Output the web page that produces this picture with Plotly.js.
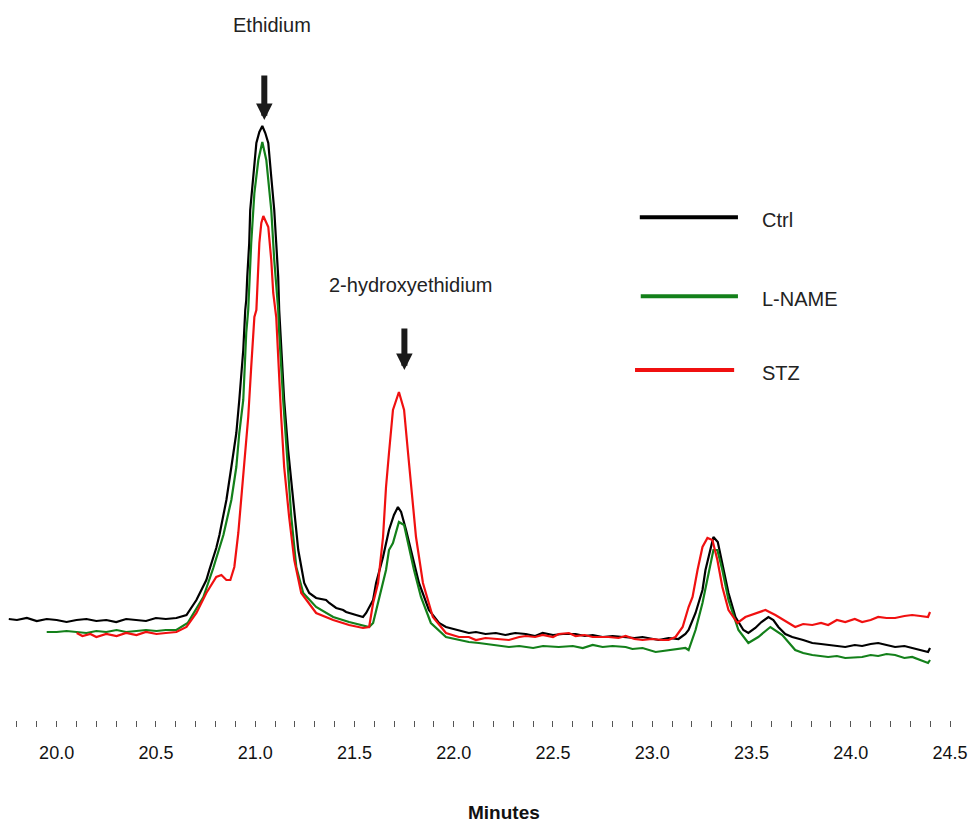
<!DOCTYPE html>
<html>
<head>
<meta charset="utf-8">
<script src="https://cdn.plot.ly/plotly-3.0.1.min.js"></script>
<style>html,body{margin:0;padding:0;background:#fff;}#chart{width:972px;height:823px;}</style>
</head>
<body>
<div id="chart"></div>
<script>
// Retention time (minutes) and detector signal (arbitrary units)
const ctrlTime = [19.759,19.800,19.850,19.900,19.950,20.000,20.050,20.100,20.150,20.200,20.250,20.300,20.350,20.400,20.450,20.500,20.550,20.603,20.654,20.704,20.754,20.769,20.804,20.820,20.855,20.880,20.905,20.920,20.940,20.950,20.955,20.960,20.970,20.975,20.990,21.006,21.021,21.036,21.051,21.066,21.081,21.096,21.106,21.116,21.121,21.131,21.146,21.166,21.192,21.217,21.247,21.272,21.307,21.357,21.373,21.408,21.443,21.458,21.508,21.543,21.559,21.574,21.594,21.609,21.644,21.674,21.699,21.719,21.735,21.760,21.795,21.825,21.875,21.926,21.961,22.026,22.076,22.112,22.160,22.212,22.260,22.310,22.363,22.410,22.448,22.500,22.550,22.614,22.660,22.700,22.750,22.800,22.866,22.910,22.951,23.000,23.032,23.082,23.132,23.167,23.183,23.218,23.253,23.268,23.290,23.308,23.330,23.353,23.384,23.419,23.459,23.484,23.519,23.550,23.585,23.610,23.635,23.670,23.705,23.760,23.806,23.850,23.900,23.972,24.020,24.057,24.100,24.138,24.180,24.223,24.270,24.309,24.350,24.389,24.399];
const ctrlSignal = [81,80,82,79,81,80,78,80,81,79,80,78,81,80,79,82,81,82,85,100,120,130,152,165,200,233,267,300,350,390,400,423,457,490,523,557,568,574,567,557,523,490,457,423,390,350,300,250,200,150,117,107,102,100,97,92,90,88,85,83,87,93,100,117,143,170,185,193,188,170,143,117,90,77,73,70,67,68,66,67,65,67,66,64,67,65,66,66,64,65,63,64,63,62,63,61,60,62,61,66,70,87,110,130,150,163,158,137,107,83,70,67,72,78,83,80,73,66,63,60,57,56,55,53,55,54,56,57,55,53,54,52,50,48,52];

const lnameTime = [19.950,20.000,20.050,20.101,20.150,20.200,20.250,20.302,20.350,20.402,20.450,20.503,20.550,20.603,20.660,20.739,20.789,20.840,20.880,20.905,20.920,20.940,20.955,20.965,20.980,20.996,21.016,21.036,21.056,21.081,21.096,21.116,21.121,21.141,21.166,21.182,21.207,21.242,21.307,21.393,21.473,21.543,21.574,21.594,21.624,21.659,21.674,21.694,21.724,21.750,21.770,21.800,21.835,21.885,21.961,22.076,22.127,22.200,22.278,22.330,22.400,22.450,22.529,22.600,22.650,22.700,22.750,22.800,22.866,22.900,22.951,23.017,23.060,23.100,23.167,23.183,23.218,23.253,23.283,23.308,23.328,23.353,23.384,23.434,23.484,23.534,23.595,23.655,23.720,23.760,23.806,23.886,23.930,23.972,24.057,24.100,24.138,24.180,24.223,24.270,24.309,24.350,24.389,24.399];
const lnameSignal = [68,68,69,68,67,69,68,70,68,69,70,69,70,70,77,103,132,165,200,233,267,300,367,390,457,507,540,558,540,490,440,390,367,300,233,183,133,107,93,83,78,75,73,77,103,130,150,157,178,175,157,130,103,77,63,58,57,55,53,54,52,54,53,54,52,55,53,54,53,51,52,48,49,50,52,50,70,97,127,150,150,130,100,70,57,63,73,65,50,47,45,43,44,42,43,45,44,46,45,42,43,40,37,40];

const stzTime = [20.101,20.130,20.170,20.200,20.250,20.302,20.350,20.402,20.450,20.503,20.550,20.603,20.654,20.704,20.754,20.804,20.830,20.855,20.875,20.895,20.915,20.930,20.945,20.965,20.980,20.996,21.006,21.021,21.031,21.041,21.066,21.081,21.091,21.101,21.106,21.131,21.146,21.171,21.197,21.232,21.307,21.393,21.473,21.543,21.574,21.594,21.619,21.644,21.659,21.674,21.694,21.724,21.750,21.770,21.785,21.810,21.845,21.895,21.961,22.026,22.076,22.112,22.160,22.212,22.278,22.330,22.363,22.410,22.448,22.500,22.529,22.580,22.614,22.660,22.700,22.780,22.830,22.866,22.910,22.951,23.000,23.050,23.082,23.117,23.153,23.183,23.203,23.228,23.253,23.278,23.303,23.328,23.353,23.384,23.429,23.469,23.534,23.570,23.620,23.685,23.720,23.760,23.806,23.850,23.886,23.930,23.972,24.020,24.057,24.100,24.138,24.180,24.223,24.270,24.309,24.350,24.389,24.399];
const stzSignal = [67,64,66,63,66,64,67,65,68,66,67,68,73,87,107,123,125,120,120,133,167,200,233,283,333,383,390,457,477,484,473,440,407,390,383,283,233,183,140,107,87,80,75,72,73,97,117,163,213,247,290,308,290,247,213,163,117,83,67,63,63,60,62,61,60,63,64,63,65,63,66,67,64,65,63,63,62,64,61,60,61,60,60,63,73,93,103,130,153,162,160,140,113,90,77,83,88,90,85,77,73,76,75,77,75,80,78,81,78,80,83,82,82,84,85,84,83,88];

const seriesNames = ["Ctrl", "L-NAME", "STZ"];
const seriesColors = ["#000000", "#13801a", "#f01010"];
const tickVals = [20.0,20.5,21.0,21.5,22.0,22.5,23.0,23.5,24.0,24.5];
const tickText = ["20.0","20.5","21.0","21.5","22.0","22.5","23.0","23.5","24.0","24.5"];

const FONT = "Liberation Sans, Arial, sans-serif";
const xs = [ctrlTime, lnameTime, stzTime];
const ys = [ctrlSignal, lnameSignal, stzSignal];

const traces = seriesNames.map((n, i) => ({
  type: "scatter", mode: "lines", name: n,
  x: xs[i], y: ys[i],
  line: {color: seriesColors[i], width: 2.2, shape: "linear"},
  showlegend: false, hoverinfo: "x+y+name"
}));

// Legend drawn as line samples + labels
const legendY = [0.708, 0.597, 0.493];
const legendX0 = [0.664, 0.665, 0.659];
const legendX1 = [0.767, 0.767, 0.763];
const shapes = seriesNames.map((n, i) => ({
  type: "line", xref: "paper", yref: "paper",
  x0: legendX0[i], x1: legendX1[i], y0: legendY[i], y1: legendY[i],
  line: {color: seriesColors[i], width: 4}
}));
const annotations = seriesNames.map((n, i) => ({
  xref: "paper", yref: "paper", x: 0.790, y: legendY[i] - 0.004,
  text: n, showarrow: false, xanchor: "left", yanchor: "middle",
  font: {family: FONT, size: 20, color: "#222"}
}));
annotations.push(
  {xref: "paper", yref: "paper", x: 0.278, y: 0.979, text: "Ethidium", showarrow: false,
   xanchor: "center", yanchor: "middle", font: {family: FONT, size: 20, color: "#222"}},
  {xref: "paper", yref: "paper", x: 0.423, y: 0.613, text: "2-hydroxyethidium", showarrow: false,
   xanchor: "center", yanchor: "middle", font: {family: FONT, size: 20, color: "#222"}},
  {xref: "paper", yref: "paper", x: 0.270, y: 0.845, ax: 0, ay: -46, text: "", showarrow: true,
   arrowhead: 2, arrowsize: 0.55, arrowwidth: 6, arrowcolor: "#1a1a1a"},
  {xref: "paper", yref: "paper", x: 0.417, y: 0.493, ax: 0, ay: -43, text: "", showarrow: true,
   arrowhead: 2, arrowsize: 0.55, arrowwidth: 6, arrowcolor: "#1a1a1a"},
  {xref: "paper", yref: "paper", x: 0.522, y: -0.1296, text: "<b>Minutes</b>", showarrow: false,
   xanchor: "center", yanchor: "middle", font: {family: FONT, size: 19, color: "#111"}}
);

const layout = {
  width: 972, height: 823,
  margin: {l: 7, r: 12, t: 10, b: 103},
  paper_bgcolor: "#fff", plot_bgcolor: "#fff",
  showlegend: false,
  xaxis: {
    range: [19.75, 24.55],
    showgrid: false, zeroline: false, showline: false,
    tickmode: "array", tickvals: tickVals, ticktext: tickText,
    ticks: "outside", ticklen: 6, tickwidth: 1, tickcolor: "#555",
    ticklabelstandoff: 10, ticklabeloverflow: "allow",
    minor: {dtick: 0.1, tick0: 20, ticks: "outside", ticklen: 6, tickwidth: 1, tickcolor: "#555", showgrid: false},
    tickfont: {family: FONT, size: 18, color: "#111"}
  },
  yaxis: {
    range: [-20, 690], visible: false, showgrid: false, zeroline: false
  },
  shapes: shapes,
  annotations: annotations
};

Plotly.newPlot("chart", traces, layout, {displayModeBar: false, staticPlot: true});
</script>
</body>
</html>
